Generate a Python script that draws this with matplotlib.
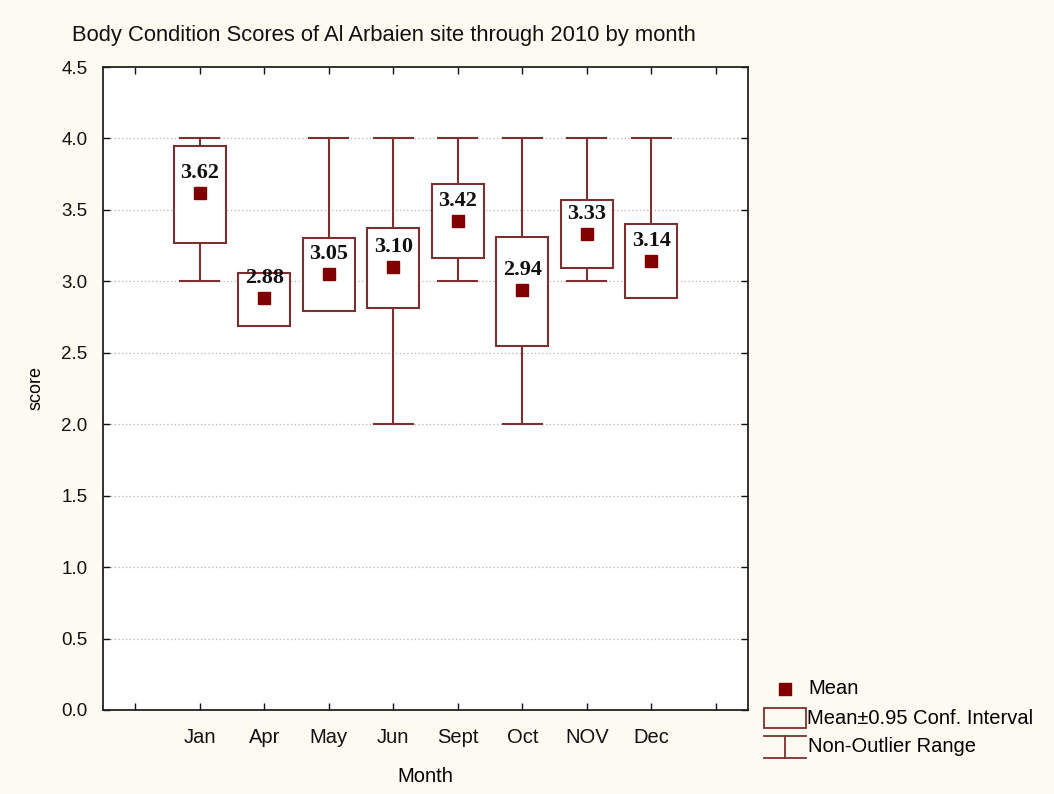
import numpy as np
import matplotlib
matplotlib.use('Agg')
import matplotlib.pyplot as plt
from matplotlib.patches import Rectangle
from matplotlib.lines import Line2D

# ── Data ──────────────────────────────────────────────────
months   = ['Jan', 'Apr', 'May', 'Jun', 'Sept', 'Oct', 'NOV', 'Dec']
means    = [3.62, 2.88, 3.05, 3.10, 3.42, 2.94, 3.33, 3.14]
ci_low   = [3.27, 2.69, 2.79, 2.81, 3.16, 2.55, 3.09, 2.88]
ci_high  = [3.95, 3.06, 3.30, 3.37, 3.68, 3.31, 3.57, 3.40]
rng_low  = [3.0, np.nan, np.nan, 2.0, 3.0, 2.0, 3.0, np.nan]
rng_high = [4.0, np.nan, 4.0, 4.0, 4.0, 4.0, 4.0, 4.0]
yticks   = [0.0, 0.5, 1.0, 1.5, 2.0, 2.5, 3.0, 3.5, 4.0, 4.5]

BOX = '#7d3030'
MEAN = '#800000'
BG = '#fcfaf1'
FS = 14.5
plt.rcParams['font.family'] = ['Liberation Sans', 'DejaVu Sans']

fig = plt.figure(figsize=(10.54, 7.94), dpi=100)
fig.patch.set_facecolor(BG)
ax = fig.add_axes([103/1054, 1 - 710/794, 645/1054, 643/794])
ax.set_facecolor('white')

x = np.arange(len(months))
bw, cw = 0.8, 0.6

for ypos in yticks[1:-1]:
    ax.axhline(ypos, color='#b5b5b5', lw=0.9, ls=(0, (1, 2)), zorder=0)

for i in x:
    lo, hi = ci_low[i], ci_high[i]
    # whiskers (non-outlier range)
    if not np.isnan(rng_high[i]):
        ax.plot([i, i], [hi, rng_high[i]], color=BOX, lw=1.5, zorder=2)
        ax.plot([i - cw/2, i + cw/2], [rng_high[i]] * 2, color=BOX, lw=1.5, zorder=2)
    if not np.isnan(rng_low[i]):
        ax.plot([i, i], [rng_low[i], lo], color=BOX, lw=1.5, zorder=2)
        ax.plot([i - cw/2, i + cw/2], [rng_low[i]] * 2, color=BOX, lw=1.5, zorder=2)
    ax.add_patch(Rectangle((i - bw/2, lo), bw, hi - lo, facecolor='white',
                           edgecolor=BOX, lw=1.5, zorder=3))
    ax.plot(i, means[i], marker='s', ms=8.5, color=MEAN, ls='none', zorder=4)
    ax.text(i, means[i] + 0.14, f'{means[i]:.2f}', ha='center', va='center',
            fontsize=16, fontweight='bold', family='Liberation Serif',
            color='#111111', zorder=5)

ax.set_xlim(-1.5, 8.5)
ax.set_ylim(0, 4.5)
ax.set_xticks(np.arange(-1, 9))
ax.set_xticklabels([''] + months + [''])
ax.set_yticks(yticks)
ax.set_yticklabels([f'{v:.1f}' for v in yticks])
ax.tick_params(direction='in', length=5, width=1, top=True, right=True,
               labelsize=13.5, colors='#111111')
ax.tick_params(axis='x', labelsize=FS, pad=13)
ax.tick_params(axis='y', pad=11)
for s in ax.spines.values():
    s.set_linewidth(1.3)
    s.set_color('#222222')

ax.set_xlabel('Month', fontsize=FS, labelpad=14)
ax.set_ylabel('score', fontsize=13, labelpad=12)
fig.text(72/1054, 1 - 35/794, 'Body Condition Scores of Al Arbaien site through 2010 by month',
         fontsize=15.8, ha='left', va='center', color='#111111')

# ── Legend drawn in pixel coords ──────────────────────────
lg = fig.add_axes([0, 0, 1, 1], facecolor='none')
lg.set_xlim(0, 1054)
lg.set_ylim(794, 0)
lg.axis('off')
lg.plot(785, 689, marker='s', ms=8, color=MEAN)
lg.text(808, 689, 'Mean', fontsize=FS, va='center')
lg.add_patch(Rectangle((764, 708), 42, 20, facecolor='none', edgecolor=BOX, lw=1.3))
lg.text(807, 719, 'Mean±0.95 Conf. Interval', fontsize=FS, va='center')
lg.add_line(Line2D([764, 806], [736, 736], color=BOX, lw=1.3))
lg.add_line(Line2D([785, 785], [736, 758], color=BOX, lw=1.3))
lg.add_line(Line2D([764, 806], [758, 758], color=BOX, lw=1.3))
lg.text(808, 746, 'Non-Outlier Range', fontsize=FS, va='center')

fig.savefig('out.png', dpi=100, facecolor=fig.get_facecolor())
